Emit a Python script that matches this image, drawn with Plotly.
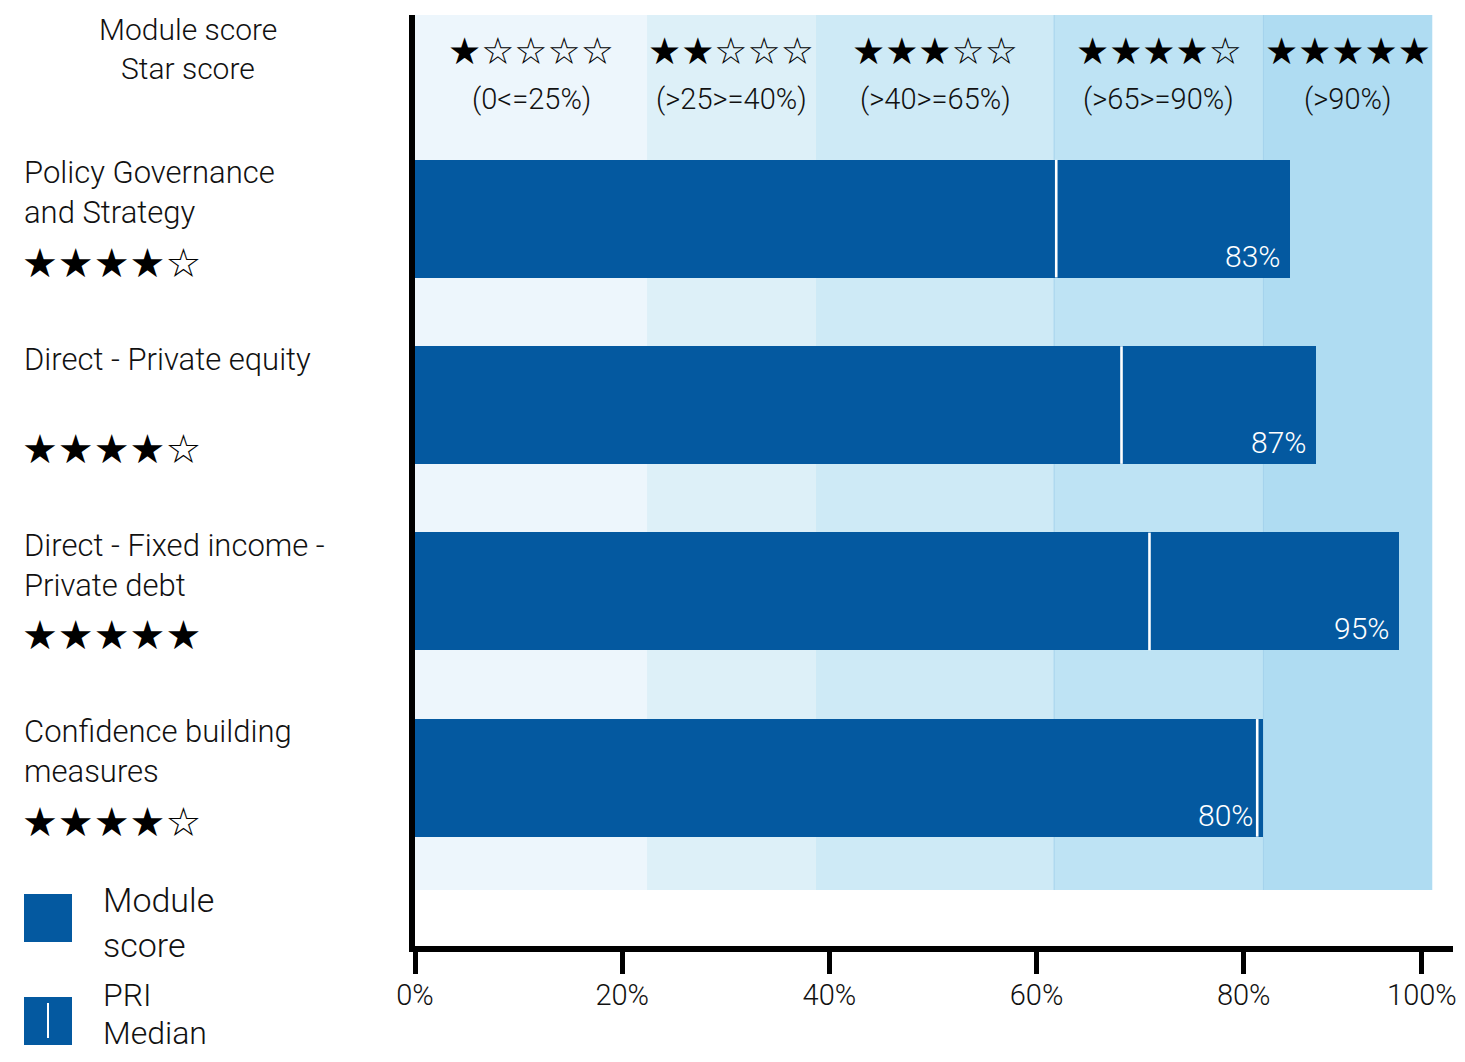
import plotly.graph_objects as go

# ---------------- data ----------------
categories = [
    "Policy Governance<br>and Strategy",
    "Direct - Private equity",
    "Direct - Fixed income -<br>Private debt",
    "Confidence building<br>measures",
]
star_scores = [4, 4, 5, 4]
module_scores = [84.5, 87.0, 95.0, 81.9]      # bar ends as read on the axis
score_labels = ["83%", "87%", "95%", "80%"]
pri_median = [61.9, 68.2, 70.9, 81.3]

band_edges = [0, 22.4, 38.7, 61.7, 81.9, 98.2]
band_stars = [1, 2, 3, 4, 5]
band_ranges = ["(0<=25%)", "(>25>=40%)", "(>40>=65%)", "(>65>=90%)", "(>90%)"]

tick_values = [0, 20, 40, 60, 80, 97.2]
tick_labels = ["0%", "20%", "40%", "60%", "80%", "100%"]

# ---------------- styles / geometry ----------------
BAR = "#0459A0"
BAND_COLORS = ["#EDF6FC", "#DDF0F8", "#CEEAF6", "#BEE3F4", "#AFDCF2"]
BAND_LINE = "#A3D2EC"
TXT = "#111111"
FONT = "Roboto"
WEIGHT = 300
STARFONT = "DejaVu Sans"

PAGE_W, PAGE_H = 1465, 1062
OFF = 8                       # default body margin of the html page
W, H = PAGE_W - 2 * OFF, PAGE_H - 2 * OFF
# plot area in page pixels
P_LEFT, P_RIGHT, P_TOP, P_BOTTOM = 415, 1453, 15, 946
ML, MR = P_LEFT - OFF, (OFF + W) - P_RIGHT
MT, MB = P_TOP - OFF, (OFF + H) - P_BOTTOM
PW = P_RIGHT - P_LEFT
PH = P_BOTTOM - P_TOP


def px_x(p):
    return (p - P_LEFT) / PW


def px_y(p):
    return (P_BOTTOM - p) / PH


def stars(n):
    return "★" * n + "☆" * (5 - n)


def tfont(size, color=TXT):
    return dict(family=FONT, size=size, color=color, weight=WEIGHT)


fig = go.Figure()

fig.add_trace(go.Bar(
    x=module_scores, y=categories, orientation="h",
    marker=dict(color=BAR, line=dict(width=0)),
    width=0.633, showlegend=False, hoverinfo="skip",
))

fig.add_trace(go.Scatter(
    x=pri_median, y=categories, mode="markers",
    marker=dict(symbol="line-ns", size=84, color="white",
                line=dict(color="white", width=2.6)),
    showlegend=False, hoverinfo="skip",
))

shapes = []
annotations = []

# star bands
band_bottom = px_y(890)
for i in range(5):
    shapes.append(dict(type="rect", xref="x", yref="paper",
                       x0=band_edges[i], x1=band_edges[i + 1],
                       y0=band_bottom, y1=1, fillcolor=BAND_COLORS[i],
                       line=dict(width=0), layer="below"))
for i in range(3, 5):
    shapes.append(dict(type="line", xref="x", yref="paper",
                       x0=band_edges[i], x1=band_edges[i],
                       y0=band_bottom, y1=1,
                       line=dict(color=BAND_LINE, width=1), layer="below"))

for i in range(5):
    xc = (band_edges[i] + band_edges[i + 1]) / 2
    annotations.append(dict(x=xc, y=px_y(51), xref="x", yref="paper",
                            text=stars(band_stars[i]), showarrow=False,
                            font=dict(family=STARFONT, size=37, color="black"),
                            xanchor="center", yanchor="middle"))
    annotations.append(dict(x=xc, y=px_y(99), xref="x", yref="paper",
                            text=band_ranges[i], showarrow=False,
                            font=tfont(29),
                            xanchor="center", yanchor="middle"))

# value labels inside the bars
for c, v, lab in zip(categories, module_scores, score_labels):
    annotations.append(dict(x=v, y=c, xref="x", yref="y", text=lab,
                            showarrow=False, xanchor="right", yanchor="bottom",
                            xshift=-8, yshift=-57,
                            font=tfont(30, "white")))

# left category labels and star scores
for c, s in zip(categories, star_scores):
    for k, line in enumerate(c.split("<br>")):
        annotations.append(dict(x=px_x(22), y=c, xref="paper", yref="y", text=line,
                                showarrow=False, xanchor="left", yanchor="middle",
                                yshift=46 - 40 * k, font=tfont(31)))
    annotations.append(dict(x=px_x(20), y=c, xref="paper", yref="y", text=stars(s),
                            showarrow=False, xanchor="left", yanchor="middle",
                            yshift=-44,
                            font=dict(family=STARFONT, size=40, color="black")))

# header
for k, line in enumerate(["Module score", "Star score"]):
    annotations.append(dict(x=px_x(188), y=px_y(29 + 40 * k), xref="paper", yref="paper",
                            text=line, showarrow=False,
                            xanchor="center", yanchor="middle",
                            font=tfont(30)))

# legend (drawn manually)
shapes.append(dict(type="rect", xref="paper", yref="paper",
                   x0=px_x(24), x1=px_x(72), y0=px_y(942), y1=px_y(894),
                   fillcolor=BAR, line=dict(width=0)))
shapes.append(dict(type="rect", xref="paper", yref="paper",
                   x0=px_x(24), x1=px_x(72), y0=px_y(1045), y1=px_y(997),
                   fillcolor=BAR, line=dict(width=0)))
shapes.append(dict(type="line", xref="paper", yref="paper",
                   x0=px_x(48), x1=px_x(48), y0=px_y(1038), y1=px_y(1003),
                   line=dict(color="white", width=2)))
for k, line in enumerate(["Module", "score"]):
    annotations.append(dict(x=px_x(101), y=px_y(900 + 45 * k), xref="paper", yref="paper",
                            text=line, showarrow=False, xanchor="left",
                            yanchor="middle", font=tfont(34)))
for k, line in enumerate(["PRI", "Median"]):
    annotations.append(dict(x=px_x(101), y=px_y(995 + 38 * k), xref="paper", yref="paper",
                            text=line, showarrow=False, xanchor="left",
                            yanchor="middle", font=tfont(32)))

fig.update_layout(
    width=W, height=H,
    margin=dict(l=ML, r=MR, t=MT, b=MB, pad=0, autoexpand=False),
    paper_bgcolor="white", plot_bgcolor="white",
    shapes=shapes, annotations=annotations,
    bargap=0,
    xaxis=dict(range=[0, 100.2], showgrid=False, zeroline=False,
               showline=True, linecolor="black", linewidth=6,
               ticks="outside", ticklen=22, tickwidth=5, tickcolor="black",
               tickvals=tick_values, ticktext=tick_labels, automargin=False,
               ticklabeloverflow="allow", ticklabelstandoff=-4,
               tickfont=tfont(29)),
    yaxis=dict(type="category", categoryarray=categories, categoryorder="array",
               range=[3.902, -1.0926], showgrid=False, zeroline=False,
               showline=True, linecolor="black", linewidth=6, automargin=False,
               showticklabels=False, ticks=""),
)

fig.write_html("out.html")
